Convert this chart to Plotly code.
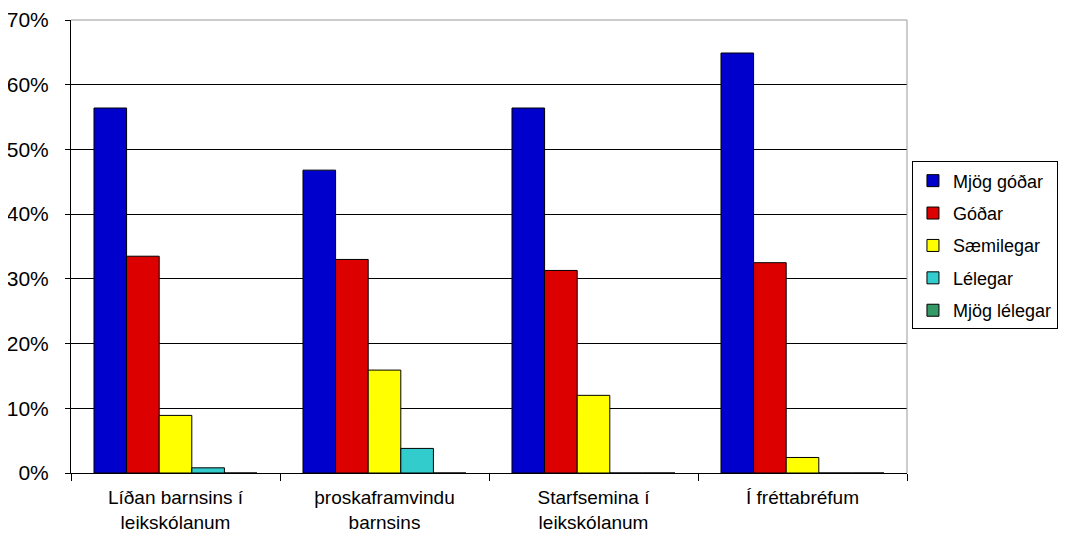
import plotly.graph_objects as go

categories = ["Líðan barnsins í<br>leikskólanum", "þroskaframvindu<br>barnsins",
              "Starfsemina í<br>leikskólanum", "Í fréttabréfum"]
series_names = ["Mjög góðar", "Góðar", "Sæmilegar", "Lélegar", "Mjög lélegar"]
mjog_godar = [56.4, 46.8, 56.4, 64.9]
godar = [33.5, 33.0, 31.3, 32.5]
saemilegar = [8.9, 15.9, 12.0, 2.4]
lelegar = [0.8, 3.8, 0.0, 0.0]
mjog_lelegar = [0.0, 0.0, 0.0, 0.0]
colors = ["#0000CC", "#DD0000", "#FFFF00", "#33CCCC", "#339966"]
tick_vals = [0, 10, 20, 30, 40, 50, 60, 70]
tick_labels = ["0%", "10%", "20%", "30%", "40%", "50%", "60%", "70%"]

values = [mjog_godar, godar, saemilegar, lelegar, mjog_lelegar]

fig = go.Figure()
for name, vals, col in zip(series_names, values, colors):
    fig.add_trace(go.Bar(
        x=categories, y=vals, name=name, legendgroup=name,
        marker=dict(color=col, line=dict(color="black", width=1)),
    ))

font_family = "Liberation Sans, Arial, sans-serif"
fig.update_layout(
    width=1058, height=530,
    margin=dict(l=63, r=159, t=12, b=65),
    paper_bgcolor="white", plot_bgcolor="white",
    barmode="group", bargap=0.22, bargroupgap=0,
    font=dict(family=font_family, size=20, color="black"),
    legend=dict(
        xref="container", yref="container",
        x=0.8544, xanchor="left", y=0.552, yanchor="middle",
        bordercolor="black", borderwidth=1,
        font=dict(size=18, color="black"),
        tracegroupgap=6,
    ),
    xaxis=dict(
        showline=True, linecolor="black", linewidth=1,
        ticks="outside", tickson="boundaries", ticklen=7, tickcolor="black",
        ticklabelstandoff=7,
        tickfont=dict(size=19), showgrid=False, automargin=False,
    ),
    yaxis=dict(
        range=[0, 70], tickvals=tick_vals, ticktext=tick_labels,
        showline=True, linecolor="black", linewidth=1,
        ticks="outside", ticklen=5, tickcolor="black",
        ticklabelstandoff=12,
        showgrid=True, gridcolor="black", gridwidth=1,
        zeroline=False, tickfont=dict(size=21), automargin=False,
    ),
    shapes=[
        dict(type="line", xref="paper", yref="paper", x0=0, x1=1, y0=1, y1=1,
             line=dict(color="#999999", width=1)),
        dict(type="line", xref="paper", yref="paper", x0=1, x1=1, y0=0, y1=1,
             line=dict(color="#999999", width=1)),
    ],
)

fig.write_html("out.html")
